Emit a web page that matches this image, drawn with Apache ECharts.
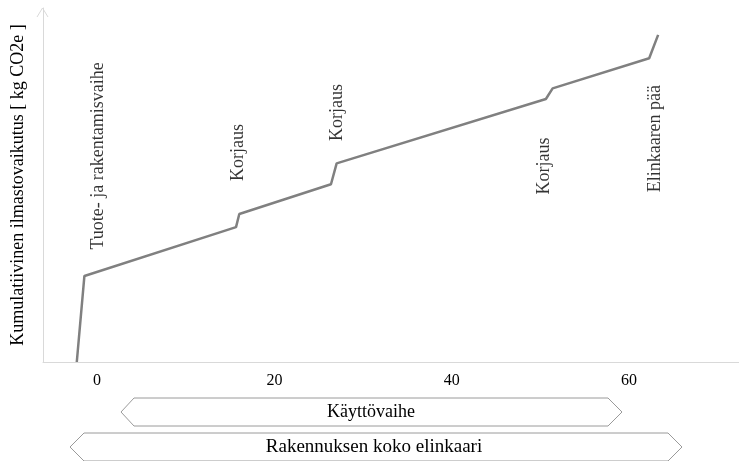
<!DOCTYPE html>
<html><head><meta charset="utf-8">
<script src="https://cdn.jsdelivr.net/npm/echarts@6/dist/echarts.min.js"></script>
<style>html,body{margin:0;padding:0;background:#fff}#c{width:739px;height:461px}</style>
</head><body><div id="c"></div>
<script>
// Data
const xVals = [-2.29, -1.43, 15.67, 16.04, 26.38, 27.02, 50.62, 51.38, 62.27, 63.28];
const yVals = [0, 24.3, 38.1, 41.8, 50.2, 56.1, 74.3, 77.3, 85.8, 92.4];
const xTickLabels = [0, 20, 40, 60];
const annoText = ['Tuote- ja rakentamisvaihe', 'Korjaus', 'Korjaus', 'Korjaus', 'Elinkaaren pää'];
const annoX = [0.1, 15.9, 27.06, 50.4, 63.0];
const annoY = [58.2, 59.2, 70.5, 55.4, 63.1];
const yAxisName = 'Kumulatiivinen ilmastovaikutus [ kg CO2e ]';
const phaseNames = ['Käyttövaihe', 'Rakennuksen koko elinkaari'];

const serif = '"Liberation Serif", "DejaVu Serif", serif';
const chart = echarts.init(document.getElementById('c'));
const lineData = xVals.map((x, i) => [x, yVals[i]]);
const annoData = annoText.map((t, i) => ({value: [annoX[i], annoY[i]], name: t}));

function box(pts, text, cx, cy, fs) {
  return [
    {type: 'polygon', shape: {points: pts}, style: {fill: '#fff', stroke: '#9a9a9a', lineWidth: 1}},
    {type: 'text', x: cx, y: cy, style: {text: text, font: fs + 'px ' + serif, fill: '#000', align: 'center', verticalAlign: 'middle'}}
  ];
}

chart.setOption({
  animation: false,
  grid: {left: 43, right: 0, top: 8, bottom: 99, containLabel: false, outerBoundsMode: 'none'},
  xAxis: {
    type: 'value', min: -6.1, max: 72.4,
    axisLine: {show: true, onZero: false, lineStyle: {color: '#d9d9d9', width: 1}},
    axisTick: {show: false},
    splitLine: {show: false},
    axisLabel: {customValues: xTickLabels, margin: 11, color: '#000', fontFamily: serif, fontSize: 16}
  },
  yAxis: {
    type: 'value', min: 0, max: 100,
    name: yAxisName, nameLocation: 'middle', nameGap: 16,
    nameTextStyle: {color: '#000', fontFamily: serif, fontSize: 18},
    axisLine: {show: true, onZero: false, lineStyle: {color: '#d9d9d9', width: 1}},
    axisTick: {show: false}, axisLabel: {show: false}, splitLine: {show: false}
  },
  series: [
    {type: 'line', data: lineData, showSymbol: false, lineStyle: {color: '#808080', width: 2.5}, itemStyle: {color: '#808080'}, z: 3},
    {type: 'scatter', data: annoData, symbolSize: 0, silent: true,
     label: {show: true, position: 'inside', rotate: 90, formatter: p => p.name, color: '#000', fontFamily: serif, fontSize: 18, align: 'center', verticalAlign: 'middle'}}
  ],
  graphic: [
    {type: 'polyline', shape: {points: [[37, 17], [42.5, 8], [48, 17]]}, style: {stroke: '#d9d9d9', lineWidth: 1, fill: null}},
    ...box([[121, 412], [134, 398], [608, 398], [622, 412], [608, 426], [134, 426]], phaseNames[0], 371, 412, 18),
    ...box([[70, 447], [84, 433], [668, 433], [682, 447], [668, 461], [84, 461]], phaseNames[1], 374, 447, 19)
  ]
});
</script></body></html>
